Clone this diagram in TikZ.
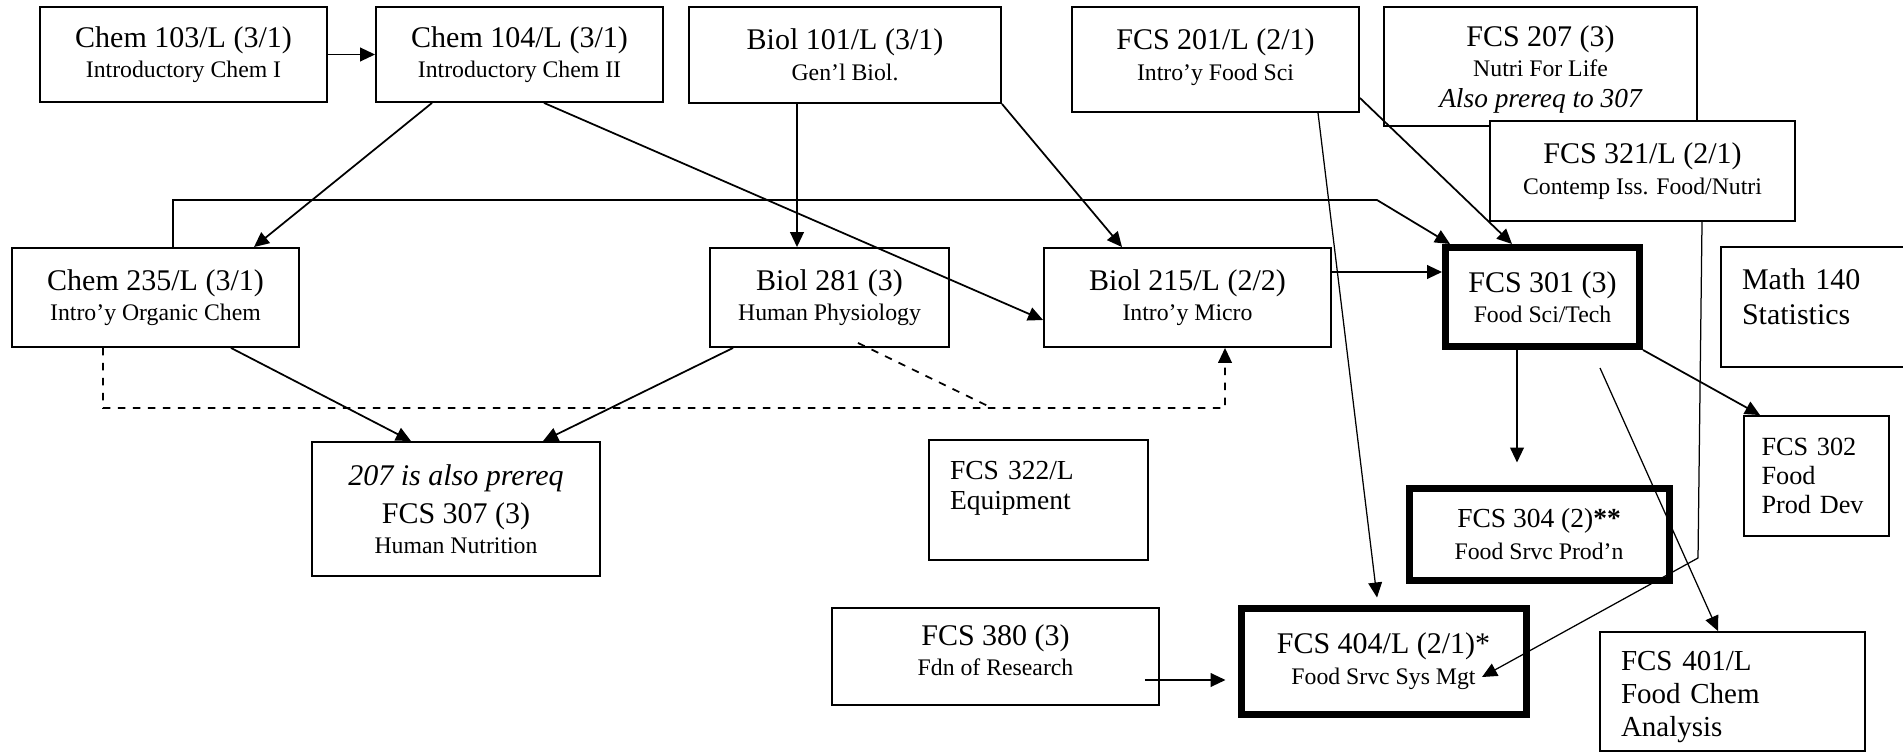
\documentclass[tikz,border=0pt,12pt]{standalone}
\usepackage{fontspec}
\setmainfont{Liberation Serif}
\usetikzlibrary{arrows.meta}
\newcommand{\crsname}[1]{{\fontsize{9.5}{12}\selectfont #1}}

\begin{document}
\begin{tikzpicture}[x=0.4pt, y=-0.4pt, line width=0.7pt, >={Triangle[length=6pt,width=5.5pt]},
  box/.style={draw, line width=0.75pt, align=center, inner sep=0pt, font=\fontsize{12}{12.2}\selectfont},
  core/.style={box, line width=2.8pt},
  lbox/.style={draw, line width=0.75pt, align=left, inner ysep=0pt, inner xsep=8.4pt},
  fine/.style={line width=0.5pt}]
\clip (0,0) rectangle (1903,752);
\draw
    (183.5,54.5) node[box, minimum width=114.8pt, minimum height=38pt](c103){Chem 103/L (3/1)\\\crsname{Introductory Chem I}}
    (519.5,54.5) node[box, minimum width=114.8pt, minimum height=38pt](c104){Chem 104/L (3/1)\\\crsname{Introductory Chem II}}
    (845,55) node[box, minimum width=124.8pt, minimum height=38.4pt](b101){Biol 101/L (3/1)\\\crsname{Gen’l Biol.}}
    (1215.5,59.5) node[box, minimum width=114.8pt, minimum height=42pt, text depth=4pt](f201){FCS 201/L (2/1)\\\crsname{Intro’y Food Sci}}
    (1540.5,66.5) node[box, minimum width=125.2pt, minimum height=47.6pt, text depth=-3pt](f207){FCS 207 (3)\\\crsname{Nutri For Life}\\{\small\itshape Also prereq to 307}}
    (1642.5,171) node[box, fill=white, minimum width=122pt, minimum height=40pt](f321){FCS 321/L (2/1)\\\crsname{Contemp Iss. Food/Nutri}}
    (155.5,297.5) node[box, minimum width=114.8pt, minimum height=39.6pt](c235){Chem 235/L (3/1)\\\crsname{Intro’y Organic Chem}}
    (829.5,297.5) node[box, minimum width=95.6pt, minimum height=39.6pt](b281){Biol 281 (3)\\\crsname{Human Physiology}}
    (1187.5,297.5) node[box, minimum width=114.8pt, minimum height=39.6pt](b215){Biol 215/L (2/2)\\\crsname{Intro’y Micro}}
    (1542.5,297) node[core, minimum width=77.6pt, minimum height=39.6pt](f301){FCS 301 (3)\\\crsname{Food Sci/Tech}}
    (1840,307) node[lbox, text width=78.4pt, minimum height=48pt, font=\fontsize{12}{14}\selectfont](m140){Math 140\\Statistics\\[-6pt]\mbox{}}
    (456,509) node[box, minimum width=115.2pt, minimum height=53.6pt](f307){\textit{207 is also prereq}\\[3pt]FCS 307 (3)\\\crsname{Human Nutrition}}
    (1038.5,500) node[lbox, text width=70.8pt, minimum height=48pt, font=\fontsize{11}{12}\selectfont](f322){FCS 322/L\\Equipment\\\mbox{}}
    (1816.5,476) node[lbox, inner xsep=7pt, text width=44pt, minimum height=48pt, font=\fontsize{10.5}{11.6}\selectfont](f302){FCS 302\\Food\\Prod Dev}
    (1732.5,691.5) node[lbox, text width=89.2pt, minimum height=47.6pt, text height=12pt, font=\fontsize{11.6}{13.2}\selectfont](f401){FCS 401/L\\Food Chem\\Analysis}
    (1539,534) node[core, minimum width=104pt, minimum height=36.8pt, text depth=-8pt, font=\fontsize{11}{12.6}\selectfont](f304){FCS 304 (2)\textbf{**}\\\crsname{Food Srvc Prod’n}}
    (995.5,656.5) node[box, minimum width=130.8pt, minimum height=38.8pt, text depth=5.2pt](f380){FCS 380 (3)\\\crsname{Fdn of Research}}
    (1383.5,661) node[core, minimum width=114pt, minimum height=42.4pt](f404){FCS 404/L (2/1)*\\\crsname{Food Srvc Sys Mgt}};

    \coordinate (jog) at (1377,200);
    \coordinate (dbase) at (1225,408);
    \coordinate (dmid) at (992,408);
    \coordinate (s401) at (1600,368);
    \coordinate (k321) at (1698,558);

    \draw[->] (c103) -- (c104);
    \draw[->] ([xshift=-35pt]c104.south) -- ([xshift=39.4pt]c235.north);
    \draw[->] ([xshift=9.8pt]c104.south) -- ([yshift=-9pt]b215.west);
    \draw[->] ([xshift=-19.2pt]b101.south) -- ([xshift=-19.2pt]b101.south |- b281.north);
    \draw[->] (b101.south east) -- ([xshift=-26.2pt]b215.north);
    \draw[->] ([yshift=-15.4pt]f201.east) -- ([xshift=-12.2pt]f301.north);
    \draw[->] ([xshift=7pt]c235.north) |- (jog) -- ([xshift=3.2pt]f301.north west);
    \draw[->, fine] ([xshift=41pt]f201.south) -- ([xshift=-2.6pt,yshift=2.8pt]f404.north);
    \draw[->] ([yshift=10.2pt]b215.east) -- ([yshift=10.2pt]b215.east -| f301.west);
    \draw[->, shorten >=8.8pt] ([xshift=-10.2pt]f301.south) -- ([xshift=-10.2pt]f301.south |- f304.north);
    \draw[->] (f301.south east) -- ([xshift=-22.6pt]f302.north);
    \draw[->, fine] (s401) -- ([xshift=-5.8pt]f401.north);
    \draw[->, fine] ([xshift=23.8pt]f321.south) -- (k321) -- ([xshift=39.4pt,yshift=-6.4pt]f404.center);
    \draw[->, shorten >=4.8pt] ([xshift=-6pt,yshift=-9.4pt]f380.east) -- ([yshift=-9.4pt]f380.east -| f404.west);
    \draw[->] ([xshift=30.2pt]c235.south) -- ([xshift=-18pt]f307.north);
    \draw[->] ([xshift=9.6pt]b281.south west) -- ([xshift=34.8pt]f307.north);
    \draw[dashed, ->] ([xshift=-21pt]c235.south) |- (dbase) -- ([xshift=15pt]b215.south);
    \draw[dashed] ([xshift=11.4pt,yshift=2pt]b281.south) -- (dmid);
\end{tikzpicture}
\end{document}
